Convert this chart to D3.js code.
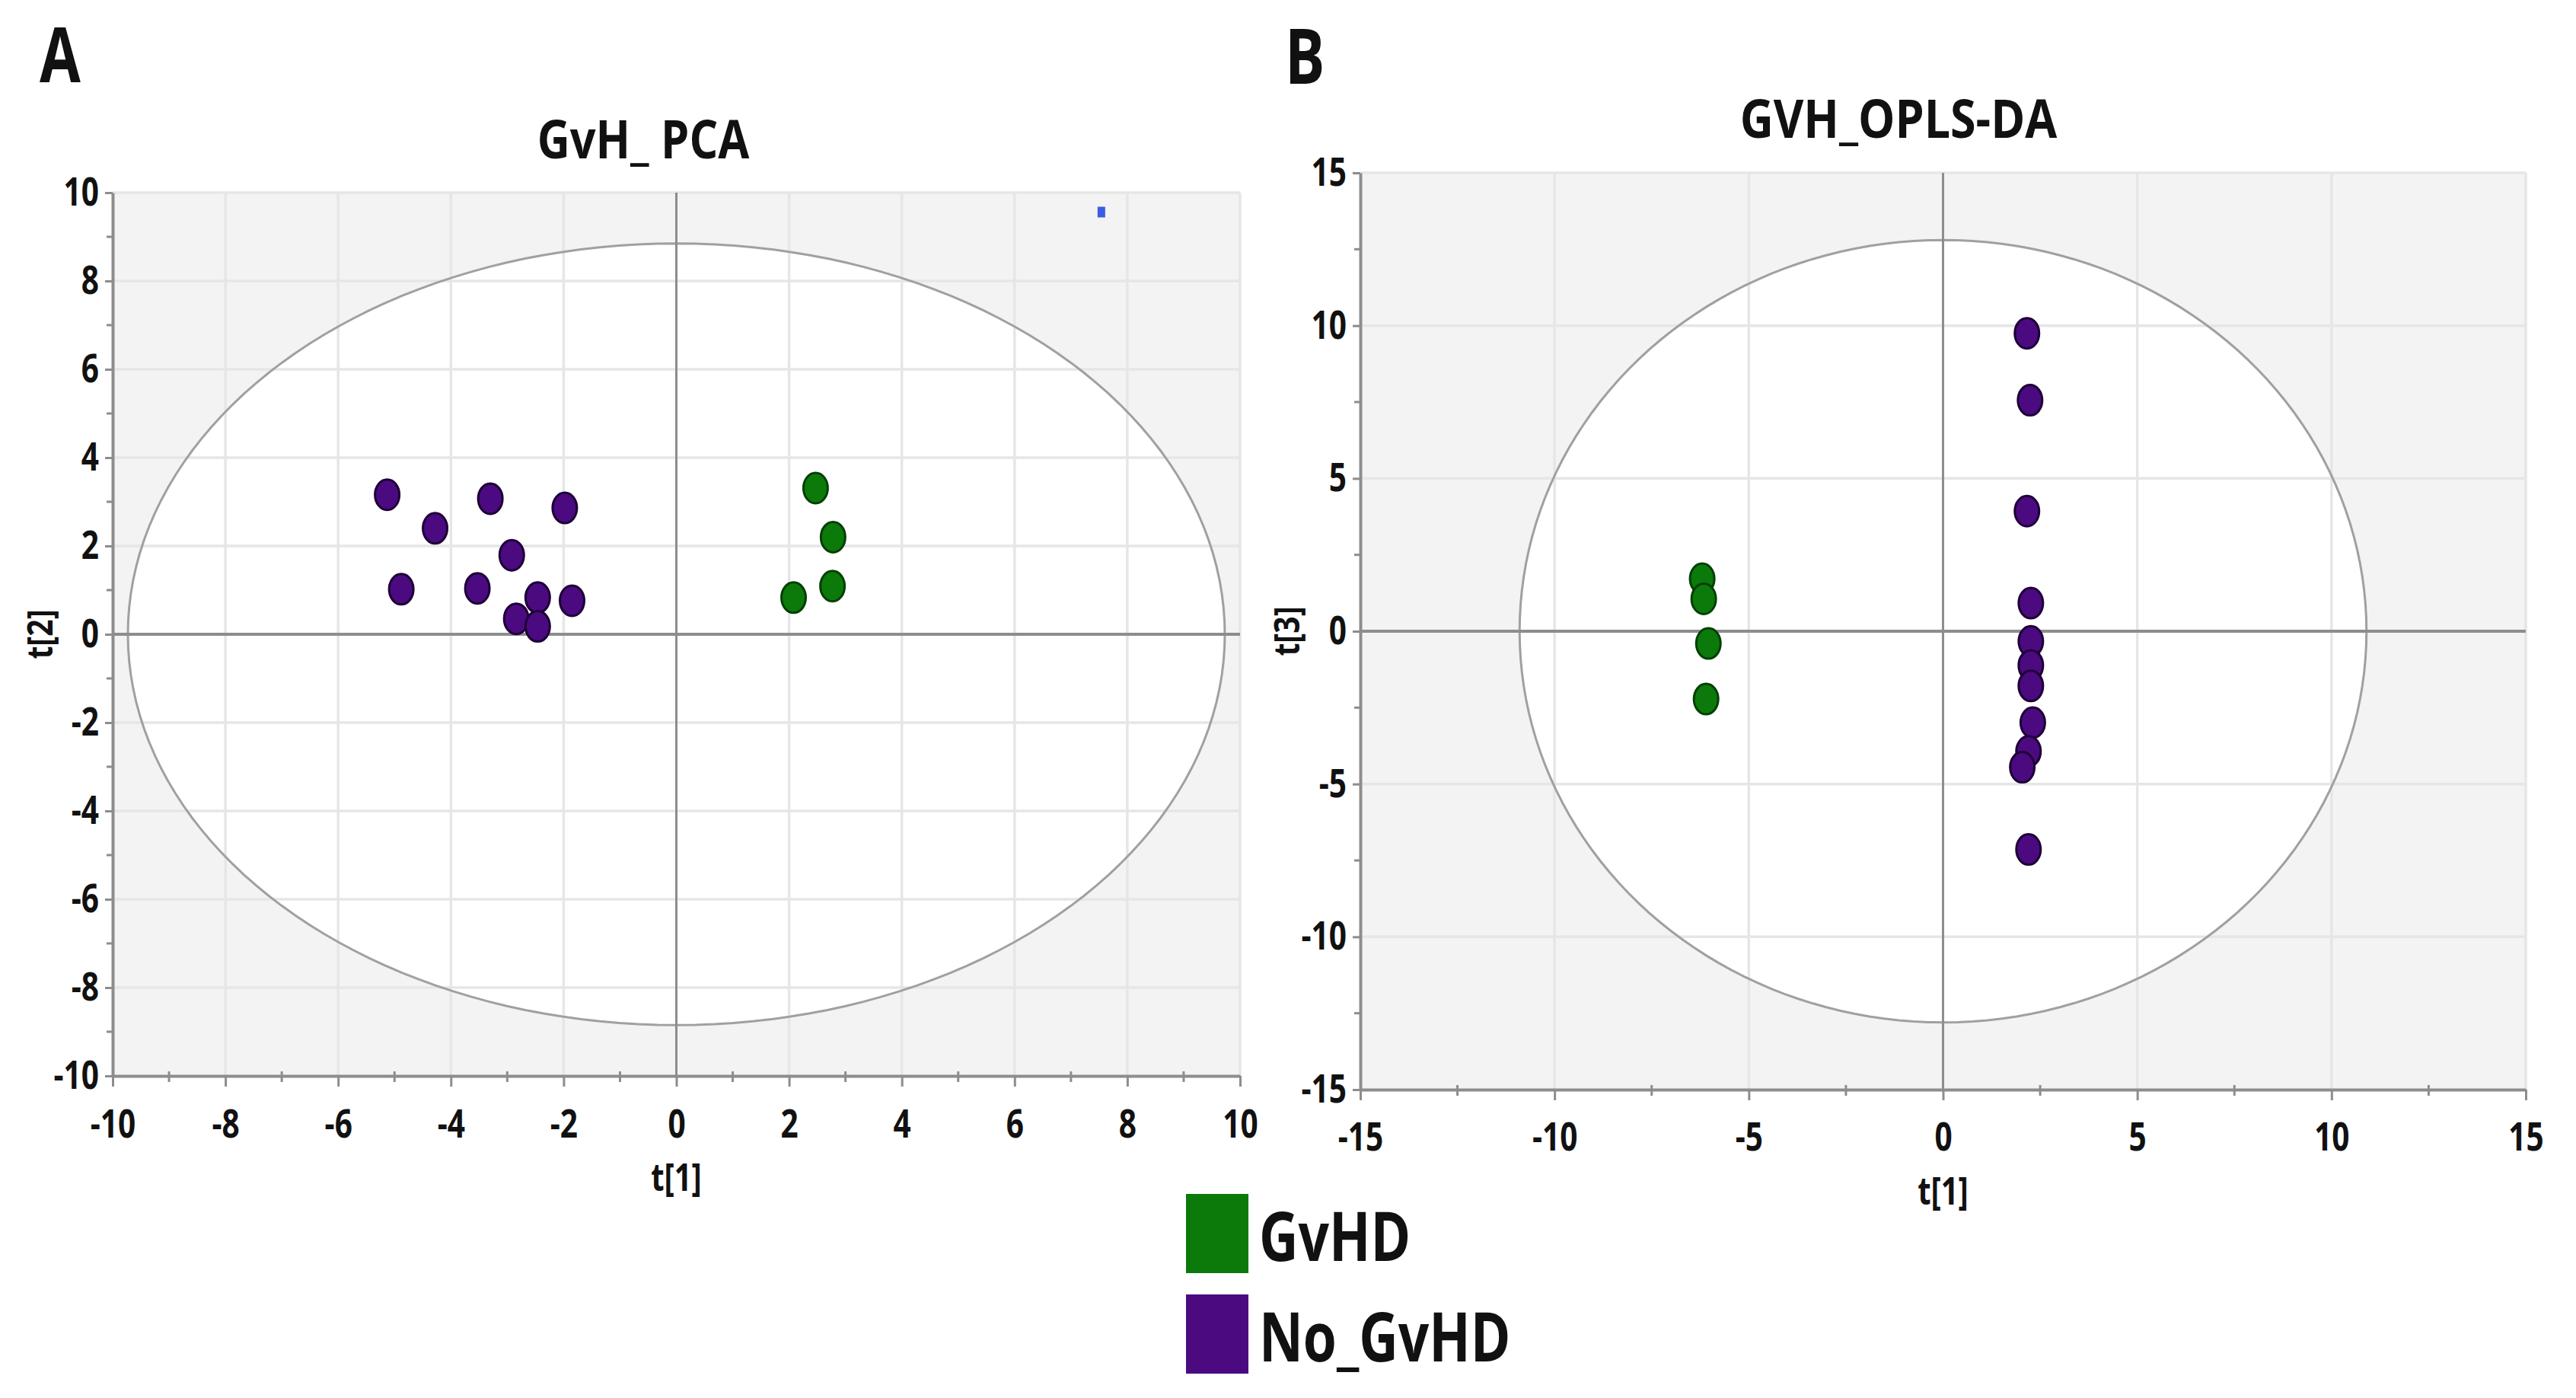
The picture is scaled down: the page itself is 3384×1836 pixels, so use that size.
<!DOCTYPE html>
<html>
<head>
<meta charset="utf-8">
<script src="https://cdn.jsdelivr.net/npm/d3@7"></script>
<style>
  body { margin: 0; background: #fff; }
  text { font-family: "Open Sans", "DejaVu Sans", sans-serif; font-weight: 700; fill: #111; }
</style>
</head>
<body>
<div id="chart"></div>
<script>
// data
const groups = ["GvHD", "No_GvHD"];
const groupColors = ["#0b7a0b", "#4b0a80"];
const groupStrokes = ["#053f05", "#1e0036"];

// panel A: PCA scores t[1] / t[2]
const pcaGvhdX = [2.47, 2.78, 2.77, 2.08];
const pcaGvhdY = [3.31, 2.20, 1.09, 0.83];
const pcaNoX = [-5.13, -3.30, -1.98, -4.28, -2.92, -4.88, -3.53, -2.46, -1.85, -2.84, -2.46];
const pcaNoY = [3.16, 3.07, 2.86, 2.40, 1.79, 1.02, 1.04, 0.83, 0.76, 0.35, 0.18];
const pcaMarker = [7.54, 9.56];      // the little blue mark top right
const pcaEllipse = [9.73, 8.85];     // Hotelling T2 semi-axes
const pcaTicks = [-10, -8, -6, -4, -2, 0, 2, 4, 6, 8, 10];
const pcaMinor = [-9, -7, -5, -3, -1, 1, 3, 5, 7, 9];

// panel B: OPLS-DA scores t[1] / t[3]
const oplsGvhdX = [-6.20, -6.16, -6.04, -6.10];
const oplsGvhdY = [1.72, 1.06, -0.40, -2.22];
const oplsNoX = [2.16, 2.24, 2.16, 2.26, 2.26, 2.26, 2.26, 2.31, 2.20, 2.04, 2.20];
const oplsNoY = [9.75, 7.56, 3.93, 0.92, -0.33, -1.12, -1.79, -2.99, -3.93, -4.45, -7.14];
const oplsEllipse = [10.9, 12.8];
const oplsTicks = [-15, -10, -5, 0, 5, 10, 15];
const oplsMinor = [-12.5, -7.5, -2.5, 2.5, 7.5, 12.5];

const svg = d3.select('#chart').append('svg')
  .attr('width', 3384)
  .attr('height', 1836);

//helper: text squeezed horizontally like in the original figure
function label(g, x, y, txt, size, sx, anchor, rot) {
  return g.append('text')
    .attr('transform', `translate(${x},${y}) rotate(${rot || 0}) scale(${sx},1)`)
    .attr('text-anchor', anchor || 'middle')
    .style('font-size', size + 'px')
    .text(txt);
}

function drawPanel(cfg) {
  const g = svg.append('g');
  const x = d3.scaleLinear().domain(cfg.domainX).range(cfg.rangeX);
  const y = d3.scaleLinear().domain(cfg.domainY).range(cfg.rangeY);

  //grey plot area
  g.append('rect')
    .attr('x', cfg.rangeX[0]).attr('y', cfg.rangeY[1])
    .attr('width', cfg.rangeX[1] - cfg.rangeX[0])
    .attr('height', cfg.rangeY[0] - cfg.rangeY[1])
    .attr('fill', '#f3f3f3');

  //ellipse outline from its semi axes
  const ellPts = d3.range(0, 361, 2).map(a => [
    cfg.ellipse[0] * Math.cos(a * Math.PI / 180),
    cfg.ellipse[1] * Math.sin(a * Math.PI / 180)]);
  const ellLine = d3.line().x(d => x(d[0])).y(d => y(d[1])).curve(d3.curveLinearClosed);

  g.append('path')
    .attr('d', ellLine(ellPts))
    .attr('fill', '#fff');

  //grid
  g.selectAll('.gx').data(cfg.ticks.filter(t => t !== 0 && t !== cfg.domainX[0]))
    .join('line')
    .attr('x1', d => x(d)).attr('x2', d => x(d))
    .attr('y1', cfg.rangeY[1]).attr('y2', cfg.rangeY[0])
    .attr('stroke', '#e6e6e6').attr('stroke-width', 3.5);
  g.selectAll('.gy').data(cfg.ticks.filter(t => t !== 0 && t !== cfg.domainY[0]))
    .join('line')
    .attr('y1', d => y(d)).attr('y2', d => y(d))
    .attr('x1', cfg.rangeX[0]).attr('x2', cfg.rangeX[1])
    .attr('stroke', '#e6e6e6').attr('stroke-width', 3.5);

  g.append('path')
    .attr('d', ellLine(ellPts))
    .attr('fill', 'none')
    .attr('stroke', '#a0a0a0')
    .attr('stroke-width', 3);

  //zero lines
  g.append('line')
    .attr('x1', x(0)).attr('x2', x(0))
    .attr('y1', cfg.rangeY[1]).attr('y2', cfg.rangeY[0])
    .attr('stroke', '#8d8d8d').attr('stroke-width', 3);
  g.append('line')
    .attr('y1', y(0)).attr('y2', y(0))
    .attr('x1', cfg.rangeX[0]).attr('x2', cfg.rangeX[1])
    .attr('stroke', '#8d8d8d').attr('stroke-width', 4);

  //axes (plain hyphen for negatives, as in the figure)
  const fmt = d => String(d);
  const xAxis = g.append('g')
    .attr('transform', `translate(0,${cfg.rangeY[0]})`)
    .call(d3.axisBottom(x).tickValues(cfg.ticks).tickFormat(fmt)
      .tickSize(14).tickSizeOuter(0).tickPadding(cfg.xPad));
  const yAxis = g.append('g')
    .attr('transform', `translate(${cfg.rangeX[0]},0)`)
    .call(d3.axisLeft(y).tickValues(cfg.ticks).tickFormat(fmt)
      .tickSize(10).tickSizeOuter(0).tickPadding(0));

  [xAxis, yAxis].forEach(a => {
    a.select('.domain').attr('stroke', '#8d8d8d').attr('stroke-width', 4);
    a.selectAll('.tick line').attr('stroke', '#8d8d8d').attr('stroke-width', 3);
    a.selectAll('text').style('font-size', '52px').style('font-family', null).attr('fill', '#111');
  });
  xAxis.selectAll('text').attr('transform', 'scale(0.78,1)');
  yAxis.selectAll('text').attr('x', 0).attr('transform', 'translate(-18,0) scale(0.78,1)');

  //minor ticks
  g.selectAll('.mx').data(cfg.minor).join('line')
    .attr('x1', d => x(d)).attr('x2', d => x(d))
    .attr('y1', cfg.rangeY[0] - 6).attr('y2', cfg.rangeY[0] + 8)
    .attr('stroke', '#8d8d8d').attr('stroke-width', 3);
  g.selectAll('.my').data(cfg.minor).join('line')
    .attr('y1', d => y(d)).attr('y2', d => y(d))
    .attr('x1', cfg.rangeX[0] - 8).attr('x2', cfg.rangeX[0])
    .attr('stroke', '#8d8d8d').attr('stroke-width', 3);

  //points
  cfg.series.forEach((s, i) => {
    g.selectAll(null).data(d3.zip(s[0], s[1])).join('ellipse')
      .attr('cx', d => x(d[0]))
      .attr('cy', d => y(d[1]))
      .attr('rx', 16).attr('ry', 20)
      .attr('fill', groupColors[i])
      .attr('stroke', groupStrokes[i])
      .attr('stroke-width', 3);
  });

  if (cfg.marker) {
    g.append('rect')
      .attr('x', x(cfg.marker[0]) - 5).attr('y', y(cfg.marker[1]) - 7)
      .attr('width', 10).attr('height', 14)
      .attr('fill', '#3a5ee0');
  }

  //texts
  label(g, cfg.title[1], cfg.title[2], cfg.title[0], 70, cfg.title[3]);
  label(g, cfg.letter[1], cfg.letter[2], cfg.letter[0], 100, 0.78, 'start');
  label(g, x(0), cfg.xTitleY, 't[1]', 50, 0.8);
  label(g, cfg.yTitleX, y(0), cfg.yTitle, 46, 0.85, 'middle', -90)
    .attr('dominant-baseline', 'central');
}

drawPanel({
  domainX: [-10, 10], rangeX: [148, 1629],
  domainY: [-10, 10], rangeY: [1413, 253],
  ticks: pcaTicks, minor: pcaMinor, ellipse: pcaEllipse,
  series: [[pcaGvhdX, pcaGvhdY], [pcaNoX, pcaNoY]],
  marker: pcaMarker,
  xPad: 30,
  title: ['GvH_ PCA', 845, 208, 0.85],
  letter: ['A', 52, 108],
  xTitleY: 1564, yTitleX: 51, yTitle: 't[2]'
});

drawPanel({
  domainX: [-15, 15], rangeX: [1787, 3318],
  domainY: [-15, 15], rangeY: [1431, 227],
  ticks: oplsTicks, minor: oplsMinor, ellipse: oplsEllipse,
  series: [[oplsGvhdX, oplsGvhdY], [oplsNoX, oplsNoY]],
  xPad: 29,
  title: ['GVH_OPLS-DA', 2494, 181, 0.87],
  letter: ['B', 1688, 110],
  xTitleY: 1582, yTitleX: 1689, yTitle: 't[3]'
});

//legend
const legend = svg.append('g').attr('transform', 'translate(1558,1568)');
groups.forEach((name, i) => {
  legend.append('rect')
    .attr('x', 0).attr('y', i * 132)
    .attr('width', 82).attr('height', 104)
    .attr('fill', groupColors[i]);
  label(legend, 96, i * 132 + 88, name, 89, 0.8, 'start');
});
</script>
</body>
</html>
